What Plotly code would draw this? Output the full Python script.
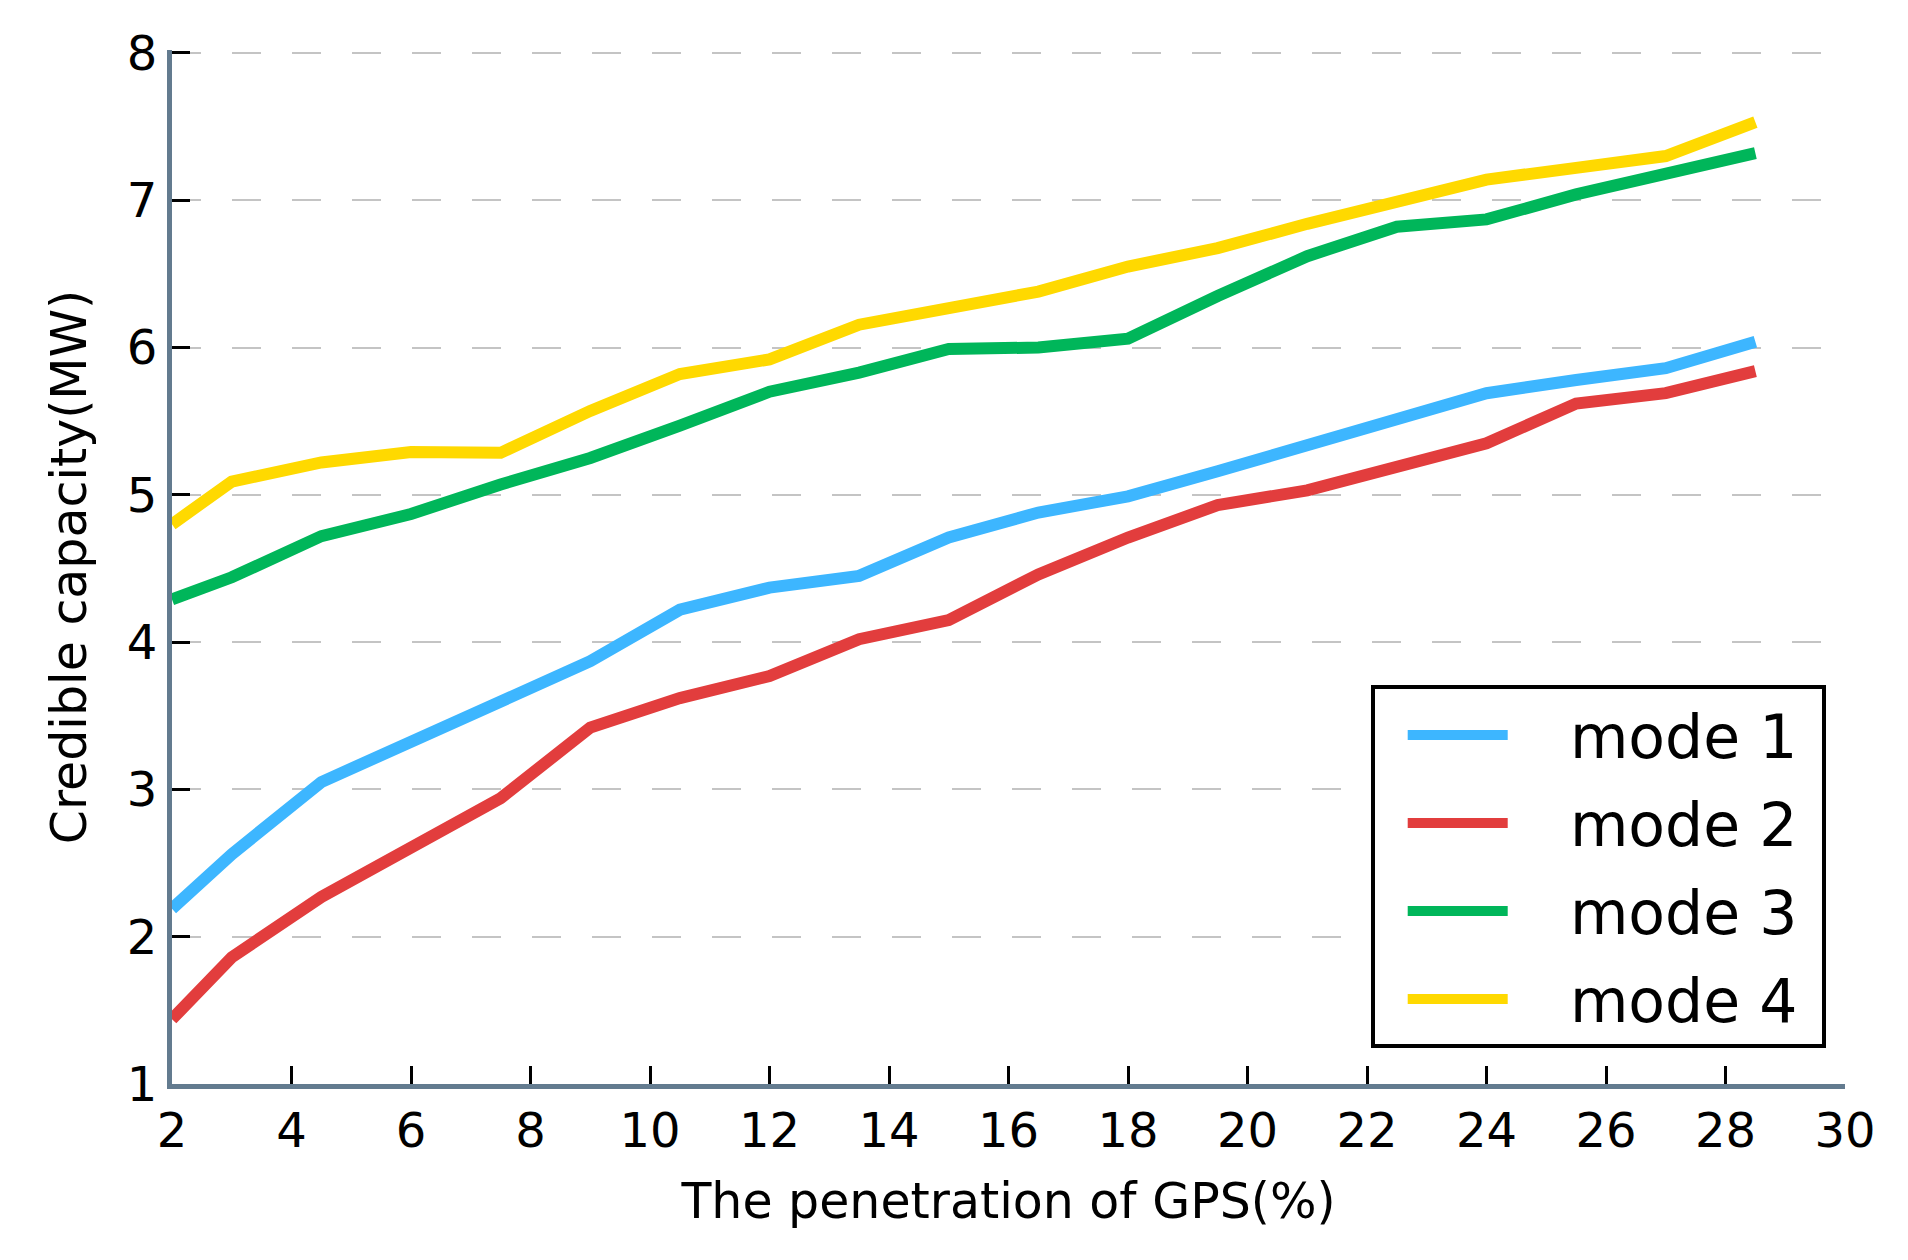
import plotly.graph_objects as go

penetration = [2, 3, 4.5, 6, 7.5, 9, 10.5, 12, 13.5, 15, 16.5, 18, 19.5, 21, 22.5, 24, 25.5, 27, 28.5]
mode1 = [2.19, 2.56, 3.05, 3.33, 3.60, 3.87, 4.22, 4.37, 4.45, 4.71, 4.88, 4.99, 5.16, 5.34, 5.52, 5.69, 5.78, 5.86, 6.04]
mode2 = [1.44, 1.86, 2.27, 2.61, 2.94, 3.42, 3.62, 3.77, 4.02, 4.15, 4.46, 4.71, 4.93, 5.03, 5.18, 5.35, 5.62, 5.69, 5.84]
mode3 = [4.29, 4.44, 4.72, 4.87, 5.07, 5.25, 5.47, 5.70, 5.83, 5.99, 6.00, 6.06, 6.35, 6.62, 6.82, 6.87, 7.04, 7.17, 7.32]
mode4 = [4.80, 5.09, 5.22, 5.29, 5.285, 5.57, 5.82, 5.92, 6.155, 6.27, 6.38, 6.55, 6.675, 6.84, 6.99, 7.14, 7.22, 7.30, 7.53]

series_names = ["mode 1", "mode 2", "mode 3", "mode 4"]
series_values = [mode1, mode2, mode3, mode4]
series_colors = ["#3db6ff", "#e23d3d", "#00b65a", "#ffd900"]

x_ticks = list(range(2, 31, 2))
y_ticks = list(range(1, 9))

FONT = "DejaVu Sans"
PAD = "\u00a0\u00a0\u00a0"

fig = go.Figure()
for name, vals, col in zip(series_names, series_values, series_colors):
    fig.add_trace(go.Scatter(
        x=penetration, y=vals, mode="lines", name=PAD + name + "\u00a0",
        legendgroup=name,
        line=dict(color=col, width=12),
    ))

fig.update_layout(
    width=1908, height=1260,
    margin=dict(l=172, r=63, t=50, b=176, autoexpand=False),
    paper_bgcolor="white", plot_bgcolor="white",
    font=dict(family=FONT, color="black"),
    showlegend=True,
    legend=dict(
        x=0.7165, y=0.3854, xanchor="left", yanchor="top",
        bgcolor="white", bordercolor="black", borderwidth=4,
        font=dict(family=FONT, size=60, color="black"),
        itemwidth=100, indentation=28, tracegroupgap=7,
    ),
)

fig.update_xaxes(
    range=[2, 30], tickvals=x_ticks, ticktext=[str(v) for v in x_ticks],
    showgrid=False, zeroline=False,
    showline=True, linecolor="#637b8f", linewidth=5,
    ticks="inside", ticklen=18, tickwidth=2.5, tickcolor="black",
    tickfont=dict(family=FONT, size=48, color="black"),
    title=dict(text="The penetration of GPS(%)", font=dict(family=FONT, size=49, color="black"), standoff=29),
)
fig.update_yaxes(
    range=[1, 8.02], tickvals=y_ticks, ticktext=[str(v) for v in y_ticks],
    showgrid=True, gridcolor="#c4c4c4", gridwidth=2, griddash="29px,31px",
    zeroline=False,
    showline=True, linecolor="#637b8f", linewidth=5,
    ticks="inside", ticklen=18, tickwidth=2.5, tickcolor="black",
    tickfont=dict(family=FONT, size=48, color="black"),
    title=dict(text="Credible capacity(MW)", font=dict(family=FONT, size=49, color="black"), standoff=26),
)

fig.write_html("out.html")
